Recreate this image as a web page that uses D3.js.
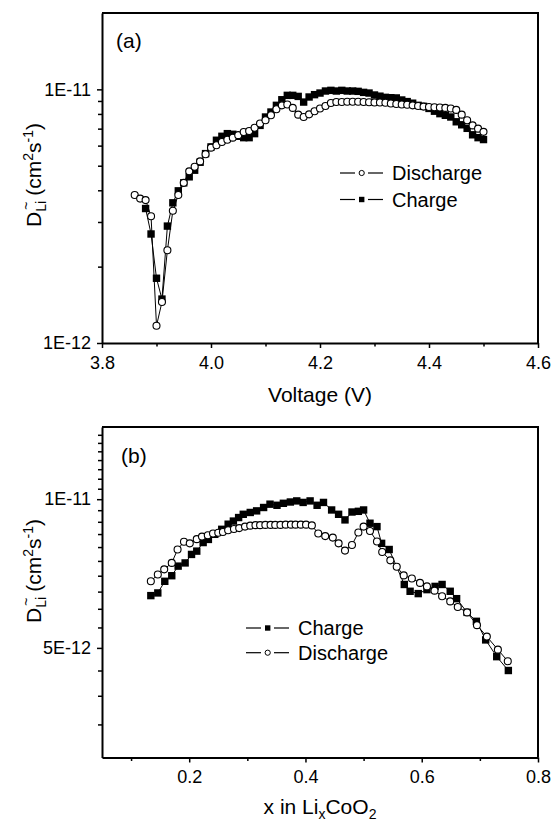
<!DOCTYPE html>
<html lang="en">
<head>
<meta charset="UTF-8" />
<title>Chemical diffusion coefficient of Li in LixCoO2</title>
<script src="https://d3js.org/d3.v7.min.js"></script>
<style>
  body { margin: 0; background: #fff; }
  svg { display: block; font-family: "Liberation Sans", Arial, sans-serif; }
  .domain { stroke-width: 2px; }
  .tick line { stroke-width: 1.5px; }
</style>
</head>
<body>
<svg width="554" height="826"></svg>
<script>
// ---- panel (a): D vs voltage (values in units of 1E-12 cm2/s)
const dischargeA_V = [3.86,3.87,3.88,3.89,3.90,3.91,3.92,3.93,3.94,3.95,
  3.96,3.97,3.98,3.99,4.00,4.01,4.02,4.03,4.04,4.05,
  4.06,4.07,4.08,4.09,4.10,4.11,4.12,4.13,4.14,4.15,
  4.16,4.17,4.18,4.19,4.20,4.21,4.22,4.23,4.24,4.25,
  4.26,4.27,4.28,4.29,4.30,4.31,4.32,4.33,4.34,4.35,
  4.36,4.37,4.38,4.39,4.40,4.41,4.42,4.43,4.44,4.45,
  4.46,4.47,4.48,4.49,4.50];
const dischargeA_D = [3.83,3.71,3.66,3.16,1.17,1.45,2.32,3.32,3.83,4.28,
  4.75,4.95,5.20,5.55,5.89,6.02,6.20,6.33,6.45,6.60,
  6.79,6.85,7.06,7.33,7.55,7.90,8.35,8.65,8.72,8.45,
  7.95,7.78,7.97,8.20,8.41,8.60,8.84,8.91,8.91,8.93,
  8.93,8.93,8.91,8.90,8.88,8.87,8.85,8.80,8.75,8.72,
  8.70,8.65,8.60,8.55,8.52,8.50,8.48,8.45,8.40,8.30,
  7.95,7.55,7.21,7.00,6.80];

const chargeA_V = [3.88,3.89,3.90,3.91,3.92,3.93,3.94,3.95,
  3.96,3.97,3.98,3.99,4.00,4.01,4.02,4.03,4.04,4.05,
  4.06,4.07,4.08,4.09,4.10,4.11,4.12,4.13,4.14,4.15,
  4.16,4.17,4.18,4.19,4.20,4.21,4.22,4.23,4.24,4.25,
  4.26,4.27,4.28,4.29,4.30,4.31,4.32,4.33,4.34,4.35,
  4.36,4.37,4.38,4.39,4.40,4.41,4.42,4.43,4.44,4.45,
  4.46,4.47,4.48,4.49,4.50];
const chargeA_D = [3.39,2.69,1.80,1.49,2.89,3.57,3.98,4.28,
  4.52,4.80,5.16,5.58,5.93,6.30,6.53,6.69,6.65,6.53,
  6.45,6.45,6.69,7.21,7.78,8.14,8.65,9.10,9.47,9.47,
  9.38,8.91,9.33,9.53,9.67,9.85,9.91,9.85,9.91,9.85,
  9.85,9.82,9.73,9.67,9.50,9.40,9.30,9.27,9.25,9.08,
  8.95,8.82,8.65,8.57,8.41,8.20,8.02,7.90,7.78,7.45,
  7.25,7.02,6.62,6.45,6.34];

// ---- panel (b): D vs x in LixCoO2
const chargeB_x = [0.134,0.146,0.158,0.170,0.181,0.193,0.204,0.213,0.224,0.233,
  0.244,0.256,0.267,0.276,0.285,0.293,0.305,0.316,0.328,0.339,
  0.351,0.362,0.374,0.385,0.396,0.408,0.420,0.431,0.445,0.457,
  0.468,0.480,0.491,0.500,0.511,0.523,0.531,0.544,0.570,0.580,
  0.594,0.609,0.623,0.635,0.649,0.660,0.678,0.694,0.710,0.729,0.749];
const chargeB_D = [6.38,6.46,6.82,7.00,7.32,7.43,7.73,7.85,8.17,8.29,
  8.49,8.69,8.90,9.03,9.18,9.32,9.40,9.47,9.62,9.77,
  9.72,9.81,9.87,9.92,9.85,9.92,9.72,9.85,9.51,9.32,
  9.08,9.42,9.45,9.51,8.94,8.80,8.14,7.91,6.72,6.51,
  6.44,6.56,6.66,6.72,6.51,6.29,5.90,5.66,5.19,4.80,4.50];

const dischargeB_x = [0.134,0.146,0.157,0.170,0.180,0.191,0.201,0.213,0.222,0.232,
  0.241,0.250,0.258,0.267,0.277,0.286,0.296,0.305,0.314,0.322,
  0.331,0.340,0.348,0.357,0.366,0.375,0.383,0.392,0.401,0.411,
  0.422,0.434,0.447,0.457,0.468,0.480,0.491,0.500,0.511,0.523,
  0.532,0.546,0.557,0.569,0.583,0.597,0.609,0.622,0.635,0.649,
  0.662,0.678,0.695,0.712,0.731,0.748];
const dischargeB_D = [6.82,7.04,7.21,7.43,7.91,8.20,8.14,8.30,8.40,8.45,
  8.52,8.55,8.58,8.65,8.70,8.74,8.80,8.84,8.86,8.86,
  8.87,8.87,8.87,8.87,8.88,8.88,8.88,8.88,8.88,8.85,
  8.52,8.42,8.36,8.14,7.87,8.08,8.56,8.80,8.62,8.21,
  7.82,7.52,7.30,7.01,6.91,6.77,6.66,6.53,6.36,6.21,
  6.05,5.90,5.56,5.27,4.96,4.70];

// ticks
const xTicksA = [3.8, 4.0, 4.2, 4.4, 4.6];
const xMinorA = [3.9, 4.1, 4.3, 4.5];
const yTicksA = [1e-12, 1e-11];
const yLabelsA = ["1E-12", "1E-11"];
const yMinorA = [2e-12,3e-12,4e-12,5e-12,6e-12,7e-12,8e-12,9e-12];

const xTicksB = [0.2, 0.4, 0.6, 0.8];
const xMinorB = [0.1, 0.3, 0.5, 0.7];
const yTicksB = [5e-12, 1e-11];
const yLabelsB = ["5E-12", "1E-11"];
const yMinorB = [3.5e-12,4e-12,4.5e-12,5.5e-12,6e-12,6.5e-12,7e-12,7.5e-12,8e-12,8.5e-12,9e-12,9.5e-12,
  1.05e-11,1.1e-11,1.15e-11,1.2e-11,1.25e-11,1.3e-11,1.35e-11];

const svg = d3.select("svg");
const left = 102, right = 538;

function toPts(xs, ds) {
  return xs.map((x, i) => ({ x: x, y: ds[i] * 1e-12 }));
}

function drawPanel(opt) {
  const g = svg.append("g");
  const x = d3.scaleLinear().domain(opt.xDomain).range([left, right]);
  const y = d3.scaleLog().domain(opt.yDomain).range([opt.bottom, opt.top]);

  // frame top / right
  g.append("path")
    .attr("d", `M${left},${opt.top}H${right}V${opt.bottom}`)
    .attr("fill", "none").attr("stroke", "#000").attr("stroke-width", 2);

  // minor ticks
  g.append("g").attr("transform", `translate(0,${opt.bottom})`)
    .call(d3.axisBottom(x).tickValues(opt.xMinor).tickSize(3.5).tickFormat(""))
    .call(a => a.select(".domain").remove());
  g.append("g").attr("transform", `translate(${left},0)`)
    .call(d3.axisLeft(y).tickValues(opt.yMinor).tickSize(4).tickFormat(""))
    .call(a => a.select(".domain").remove());

  // major axes
  g.append("g").attr("transform", `translate(0,${opt.bottom})`)
    .call(d3.axisBottom(x).tickValues(opt.xTicks).tickSize(5).tickSizeOuter(0)
      .tickPadding(opt.xPad).tickFormat(d3.format(".1f")))
    .call(a => a.selectAll("text").attr("font-size", 18).attr("font-family", null));
  g.append("g").attr("transform", `translate(${left},0)`)
    .call(d3.axisLeft(y).tickValues(opt.yTicks).tickSize(5).tickSizeOuter(0)
      .tickPadding(6).tickFormat((d, i) => opt.yLabels[i]))
    .call(a => a.selectAll("text").attr("font-size", 18).attr("font-family", null));
  g.selectAll(".domain").attr("stroke-width", 2);

  const line = d3.line().x(d => x(d.x)).y(d => y(d.y));
  opt.series.forEach(s => {
    g.append("path").datum(s.pts).attr("d", line)
      .attr("fill", "none").attr("stroke", "#000").attr("stroke-width", 1);
  });
  opt.series.forEach(s => {
    if (s.shape === "square") {
      g.selectAll(null).data(s.pts).enter().append("rect")
        .attr("x", d => x(d.x) - 3.7).attr("y", d => y(d.y) - 3.7)
        .attr("width", 7.4).attr("height", 7.4).attr("fill", "#000");
    } else {
      g.selectAll(null).data(s.pts).enter().append("circle")
        .attr("cx", d => x(d.x)).attr("cy", d => y(d.y)).attr("r", 3.5)
        .attr("fill", "#fff").attr("stroke", "#000").attr("stroke-width", 1.1);
    }
  });

  // legend
  opt.legend.forEach((l, i) => {
    const ly = opt.legY + i * opt.legStep;
    const lx = opt.legX;
    g.append("line").attr("x1", lx).attr("x2", lx + 15).attr("y1", ly).attr("y2", ly)
      .attr("stroke", "#000").attr("stroke-width", 1.2);
    g.append("line").attr("x1", lx + 28).attr("x2", lx + 43).attr("y1", ly).attr("y2", ly)
      .attr("stroke", "#000").attr("stroke-width", 1.2);
    if (l.shape === "square") {
      g.append("rect").attr("x", lx + 19).attr("y", ly - 2.7).attr("width", 5.4).attr("height", 5.4).attr("fill", "#000");
    } else {
      g.append("circle").attr("cx", lx + 21.7).attr("cy", ly).attr("r", 2.6)
        .attr("fill", "#fff").attr("stroke", "#000");
    }
    g.append("text").attr("x", lx + 52).attr("y", ly + 7).attr("font-size", 20).text(l.name);
  });

  // panel label
  g.append("text").attr("x", opt.labX).attr("y", opt.labY).attr("font-size", 21).text(opt.label);

  // y title
  const yt = g.append("text")
    .attr("transform", `translate(41,${opt.yTitleY}) rotate(-90)`)
    .attr("text-anchor", "middle").attr("font-size", 21);
  yt.append("tspan").text("D");
  yt.append("tspan").attr("dy", 5).attr("font-size", 14).text("Li");
  yt.append("tspan").attr("dx", -9).attr("dy", -15).attr("font-size", 14).text("~");
  yt.append("tspan").attr("dy", 10).text(" (cm");
  yt.append("tspan").attr("dy", -8).attr("font-size", 14).text("2");
  yt.append("tspan").attr("dy", 8).text("s");
  yt.append("tspan").attr("dy", -8).attr("font-size", 14).text("-1");
  yt.append("tspan").attr("dy", 8).text(")");

  return g;
}

const ga = drawPanel({
  xDomain: [3.8, 4.6], yDomain: [1e-12, 2e-11], top: 13, bottom: 343,
  xTicks: xTicksA, xMinor: xMinorA, yTicks: yTicksA, yLabels: yLabelsA, yMinor: yMinorA,
  xPad: 8,
  series: [
    { shape: "square", pts: toPts(chargeA_V, chargeA_D) },
    { shape: "circle", pts: toPts(dischargeA_V, dischargeA_D) }
  ],
  legend: [{ name: "Discharge", shape: "circle" }, { name: "Charge", shape: "square" }],
  legX: 340, legY: 173, legStep: 26.5,
  label: "(a)", labX: 116, labY: 48, yTitleY: 175
});
ga.append("text").attr("x", 320).attr("y", 402).attr("text-anchor", "middle")
  .attr("font-size", 21).text("Voltage (V)");

const gb = drawPanel({
  xDomain: [0.05, 0.8], yDomain: [3e-12, 1.4e-11], top: 427, bottom: 757.5,
  xTicks: xTicksB, xMinor: xMinorB, yTicks: yTicksB, yLabels: yLabelsB, yMinor: yMinorB,
  xPad: 8,
  series: [
    { shape: "square", pts: toPts(chargeB_x, chargeB_D) },
    { shape: "circle", pts: toPts(dischargeB_x, dischargeB_D) }
  ],
  legend: [{ name: "Charge", shape: "square" }, { name: "Discharge", shape: "circle" }],
  legX: 246, legY: 628, legStep: 24.7,
  label: "(b)", labX: 121, labY: 463, yTitleY: 571
});
const xt = gb.append("text").attr("x", 320).attr("y", 814).attr("text-anchor", "middle")
  .attr("font-size", 21);
xt.append("tspan").text("x in Li");
xt.append("tspan").attr("dy", 5).attr("font-size", 14).text("x");
xt.append("tspan").attr("dy", -5).text("CoO");
xt.append("tspan").attr("dy", 5).attr("font-size", 14).text("2");
</script>
</body>
</html>
